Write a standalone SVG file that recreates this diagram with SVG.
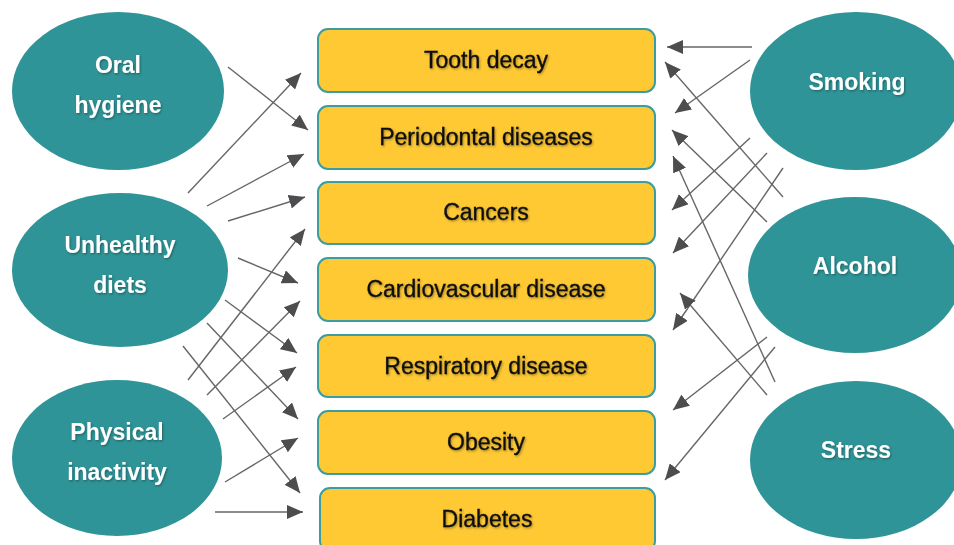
<svg xmlns="http://www.w3.org/2000/svg" width="954" height="545" viewBox="0 0 954 545">
<style>
.ell{fill:#2f9497;}
.et{font-family:"Liberation Sans",Arial,sans-serif;font-weight:bold;font-size:23px;fill:#ffffff;text-anchor:middle;}
.box{fill:#ffc934;stroke:#3c9da0;stroke-width:2;}
.bt{font-family:"Liberation Sans",Arial,sans-serif;font-size:23px;fill:#111111;stroke:#111111;stroke-width:0.35;text-anchor:middle;}
.arr{stroke:#666666;stroke-width:1.4;fill:none;marker-end:url(#ah);}
</style>
<defs>
<marker id="ah" markerUnits="userSpaceOnUse" markerWidth="16" markerHeight="14" refX="16" refY="7" orient="auto">
<path d="M0,0 L16,7 L0,14 z" fill="#4d4d50"/>
</marker>
<filter id="sh" x="-10%" y="-10%" width="130%" height="140%">
<feDropShadow dx="1" dy="1.2" stdDeviation="0.8" flood-color="#000" flood-opacity="0.35"/>
</filter>
</defs>
<g id="connectors">
<line class="arr" x1="228" y1="67" x2="308" y2="130"/>
<line class="arr" x1="188" y1="193" x2="301" y2="73"/>
<line class="arr" x1="207" y1="206" x2="304" y2="154"/>
<line class="arr" x1="228" y1="221" x2="305" y2="197"/>
<line class="arr" x1="238" y1="258" x2="298" y2="283"/>
<line class="arr" x1="225" y1="300" x2="297" y2="353"/>
<line class="arr" x1="207" y1="323" x2="298" y2="419"/>
<line class="arr" x1="183" y1="346" x2="300" y2="493"/>
<line class="arr" x1="188" y1="380" x2="305" y2="229"/>
<line class="arr" x1="207" y1="395" x2="300" y2="301"/>
<line class="arr" x1="223" y1="419" x2="296" y2="367"/>
<line class="arr" x1="225" y1="482" x2="298" y2="438"/>
<line class="arr" x1="215" y1="512" x2="303" y2="512"/>
<line class="arr" x1="752" y1="47" x2="667" y2="47"/>
<line class="arr" x1="750" y1="60" x2="675" y2="113"/>
<line class="arr" x1="783" y1="197" x2="665" y2="62"/>
<line class="arr" x1="767" y1="222" x2="672" y2="130"/>
<line class="arr" x1="775" y1="382" x2="673" y2="156"/>
<line class="arr" x1="750" y1="138" x2="672" y2="210"/>
<line class="arr" x1="767" y1="153" x2="673" y2="253"/>
<line class="arr" x1="783" y1="168" x2="673" y2="330"/>
<line class="arr" x1="767" y1="395" x2="680" y2="293"/>
<line class="arr" x1="767" y1="337" x2="673" y2="410"/>
<line class="arr" x1="775" y1="347" x2="665" y2="480"/>
</g>
<g id="oral-hygiene">
<ellipse class="ell" cx="118" cy="91" rx="106" ry="79"/>
<text class="et" filter="url(#sh)" x="118" y="73">Oral</text>
<text class="et" filter="url(#sh)" x="118" y="113">hygiene</text>
</g>
<g id="unhealthy-diets">
<ellipse class="ell" cx="120" cy="270" rx="108" ry="77"/>
<text class="et" filter="url(#sh)" x="120" y="253">Unhealthy</text>
<text class="et" filter="url(#sh)" x="120" y="293">diets</text>
</g>
<g id="physical-inactivity">
<ellipse class="ell" cx="117" cy="458" rx="105" ry="78"/>
<text class="et" filter="url(#sh)" x="117" y="440">Physical</text>
<text class="et" filter="url(#sh)" x="117" y="480">inactivity</text>
</g>
<g id="smoking">
<ellipse class="ell" cx="856" cy="91" rx="106" ry="79"/>
<text class="et" filter="url(#sh)" x="857" y="90">Smoking</text>
</g>
<g id="alcohol">
<ellipse class="ell" cx="855" cy="275" rx="107" ry="78"/>
<text class="et" filter="url(#sh)" x="855" y="274">Alcohol</text>
</g>
<g id="stress">
<ellipse class="ell" cx="856" cy="460" rx="106" ry="79"/>
<text class="et" filter="url(#sh)" x="856" y="458">Stress</text>
</g>
<g id="tooth-decay">
<rect class="box" x="318" y="29" width="337" height="63" rx="10"/>
<text class="bt" filter="url(#sh)" x="486" y="68">Tooth decay</text>
</g>
<g id="periodontal-diseases">
<rect class="box" x="318" y="106" width="337" height="63" rx="10"/>
<text class="bt" filter="url(#sh)" x="486" y="145">Periodontal diseases</text>
</g>
<g id="cancers">
<rect class="box" x="318" y="182" width="337" height="62" rx="10"/>
<text class="bt" filter="url(#sh)" x="486" y="220">Cancers</text>
</g>
<g id="cardiovascular-disease">
<rect class="box" x="318" y="258" width="337" height="63" rx="10"/>
<text class="bt" filter="url(#sh)" x="486" y="297">Cardiovascular disease</text>
</g>
<g id="respiratory-disease">
<rect class="box" x="318" y="335" width="337" height="62" rx="10"/>
<text class="bt" filter="url(#sh)" x="486" y="374">Respiratory disease</text>
</g>
<g id="obesity">
<rect class="box" x="318" y="411" width="337" height="63" rx="10"/>
<text class="bt" filter="url(#sh)" x="486" y="450">Obesity</text>
</g>
<g id="diabetes">
<rect class="box" x="320" y="488" width="335" height="63" rx="10"/>
<text class="bt" filter="url(#sh)" x="487" y="527">Diabetes</text>
</g>
</svg>
